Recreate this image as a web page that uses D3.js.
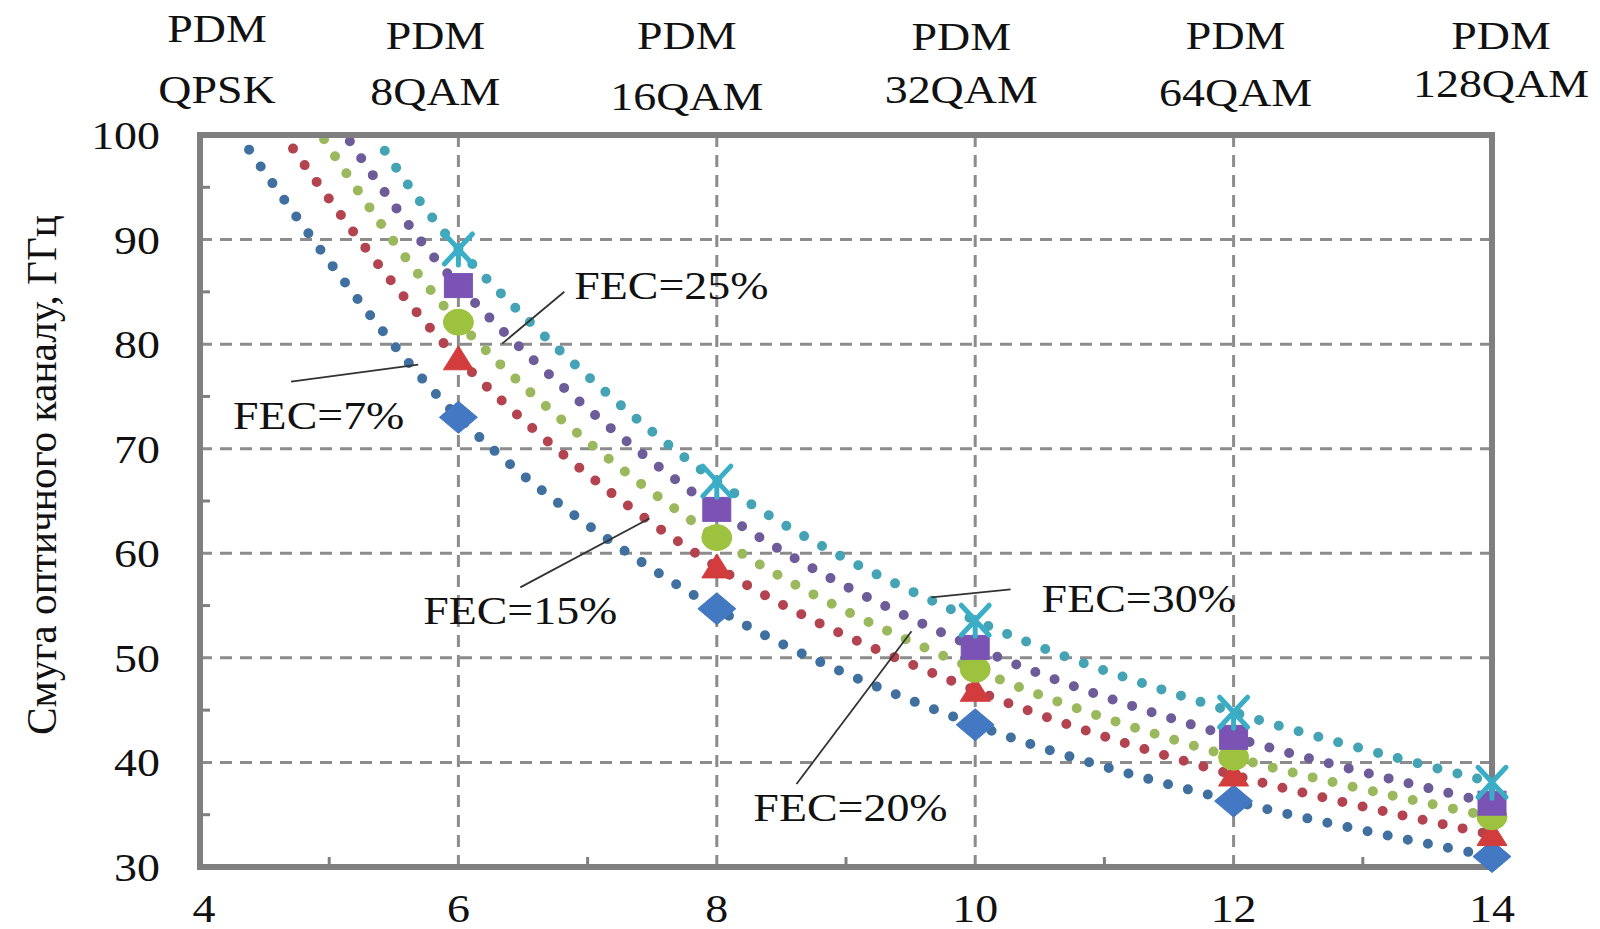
<!DOCTYPE html>
<html><head><meta charset="utf-8">
<script src="https://cdn.jsdelivr.net/npm/d3@7"></script>
<style>html,body{margin:0;padding:0;background:#fff;} svg{display:block}</style>
</head><body><svg id="chart" width="1600" height="929"></svg>
<script>
// ---------- data ----------
const xTicks = [4, 6, 8, 10, 12, 14];
const xMinorTicks = [5, 7, 9, 11, 13];
const yTicks = [30, 40, 50, 60, 70, 80, 90, 100];
const yMinorTicks = [35, 45, 55, 65, 75, 85, 95];
const gridX = [6, 8, 10, 12];
const gridY = [40, 50, 60, 70, 80, 90];
const modulationTop = ["PDM", "PDM", "PDM", "PDM", "PDM", "PDM"];
const modulationBottom = ["QPSK", "8QAM", "16QAM", "32QAM", "64QAM", "128QAM"];
const yAxisTitle = "Смуга оптичного каналу, ГГц";

const xValues = [6, 8, 10, 12, 14];
const seriesNames = ["FEC=7%", "FEC=15%", "FEC=20%", "FEC=25%", "FEC=30%"];
const fec7  = [73.0, 54.7, 43.6, 36.3, 31.0];
const fec15 = [78.6, 58.7, 46.9, 38.8, 33.1];
const fec20 = [82.1, 61.5, 48.9, 40.5, 34.8];
const fec25 = [85.6, 64.2, 51.0, 42.4, 36.1];
const fec30 = [89.1, 66.9, 53.6, 44.8, 38.1];
// where each dotted trend curve begins
const curveStartX = [4.38, 4.72, 4.96, 5.16, 5.43];
const curveStartY = [98.6, 98.7, 99.6, 99.4, 98.5];

// ---------- layout / style ----------
const W = 1600, H = 929;
const plot = {left: 200, right: 1492, top: 135, bottom: 867};
const markerColors = ["#4279c2", "#d23c3c", "#9cc23f", "#7a53b4", "#3aaec6"];
const dotColors = ["#40709f", "#b3444f", "#9ab85c", "#6e5b9a", "#44a4b5"];
const markerShapes = ["diamond", "triangle", "circle", "square", "asterisk"];
const FONT = "'Liberation Serif','Times New Roman',serif";
const FS = 41, SX = 1.12;
const topLabelDx = [17, -23, -30, -14, 2, 9];
const topLine1Base = [42, 49, 49, 50, 49, 49];
const topLine2Base = [103, 105, 110, 103, 106, 97];
// annotation placement in data units
const annotations = [
  {text: seriesNames[0], tx: 4.256, ty: 71.93, x1: 4.705, y1: 76.42, x2: 5.689, y2: 78.04},
  {text: seriesNames[1], tx: 5.727, ty: 53.21, x1: 6.479, y1: 56.74, x2: 7.478, y2: 63.33},
  {text: seriesNames[2], tx: 8.283, ty: 34.39, x1: 8.617, y1: 37.93, x2: 9.507, y2: 52.54},
  {text: seriesNames[3], tx: 6.897, ty: 84.35, x1: 6.820, y1: 85.01, x2: 6.339, y2: 80.05},
  {text: seriesNames[4], tx: 10.514, ty: 54.36, x1: 10.274, y1: 56.55, x2: 9.662, y2: 55.79}
];

const seriesValues = [fec7, fec15, fec20, fec25, fec30];

const svg = d3.select("#chart");
const x = d3.scaleLinear().domain([4, 14]).range([plot.left, plot.right]);
const y = d3.scaleLinear().domain([30, 100]).range([plot.bottom, plot.top]);

svg.append("rect").attr("width", W).attr("height", H).attr("fill", "#fff");

// grid
const grid = svg.append("g").attr("stroke", "#8c8c8c").attr("stroke-width", 3).attr("stroke-dasharray", "12 8");
grid.selectAll("line.gx").data(gridX).join("line").attr("class", "gx")
  .attr("x1", d => x(d)).attr("x2", d => x(d)).attr("y1", y(100)).attr("y2", y(30));
grid.selectAll("line.gy").data(gridY).join("line").attr("class", "gy")
  .attr("x1", x(4)).attr("x2", x(14)).attr("y1", d => y(d)).attr("y2", d => y(d));

// minor ticks
const tk = svg.append("g").attr("stroke", "#7f7f7f").attr("stroke-width", 3);
tk.selectAll("line.my").data(yMinorTicks).join("line").attr("class", "my")
  .attr("x1", x(4)).attr("x2", x(4) + 10).attr("y1", d => y(d)).attr("y2", d => y(d));
tk.selectAll("line.mx").data(xMinorTicks).join("line").attr("class", "mx")
  .attr("x1", d => x(d)).attr("x2", d => x(d)).attr("y1", y(30)).attr("y2", y(30) - 10);

// dotted trend curves
const line = d3.line().x(d => x(d[0])).y(d => y(d[1])).curve(d3.curveCatmullRom.alpha(0.5));
seriesValues.forEach((vals, i) => {
  const pts = [[curveStartX[i], curveStartY[i]]].concat(xValues.map((xv, j) => [xv, vals[j]]));
  svg.append("path").datum(pts).attr("d", line)
    .attr("fill", "none").attr("stroke", dotColors[i]).attr("stroke-width", 10)
    .attr("stroke-linecap", "round").attr("stroke-dasharray", "0 20.5");
});

// frame
svg.append("rect").attr("x", plot.left).attr("y", plot.top)
  .attr("width", plot.right - plot.left).attr("height", plot.bottom - plot.top)
  .attr("fill", "none").attr("stroke", "#7f7f7f").attr("stroke-width", 6);

// markers
seriesValues.forEach((vals, i) => {
  const g = svg.append("g").attr("fill", markerColors[i]).attr("stroke", markerColors[i]);
  vals.forEach((v, j) => {
    const cx = x(xValues[j]), cy = y(v);
    const m = g.append("g").attr("transform", `translate(${cx},${cy})`);
    const s = markerShapes[i];
    if (s === "diamond") m.append("path").attr("d", "M0,-16L19,0L0,16L-19,0Z").attr("stroke-width", 1);
    else if (s === "triangle") m.append("path").attr("d", "M0,-13L15,11L-15,11Z").attr("stroke-width", 1);
    else if (s === "circle") m.append("ellipse").attr("rx", 15).attr("ry", 13).attr("stroke-width", 1);
    else if (s === "square") m.append("rect").attr("x", -14).attr("y", -12).attr("width", 28).attr("height", 24).attr("stroke-width", 1);
    else {
      m.attr("fill", "none").attr("stroke-width", 5).attr("stroke-linecap", "round");
      m.append("path").attr("d", "M-14,-15L14,15M14,-15L-14,15M0,0L0,16");
    }
  });
});

// text helper
function txt(parent, str, tx, ty, anchor) {
  return parent.append("text").attr("transform", `translate(${tx},${ty}) scale(${SX},1)`)
    .attr("text-anchor", anchor || "start").attr("font-family", FONT).attr("font-size", FS)
    .attr("fill", "#111").text(str);
}

// y tick labels
yTicks.forEach(t => txt(svg, String(t), 160, y(t) + 14, "end"));
// x tick labels
xTicks.forEach(t => txt(svg, String(t), x(t) + (t === 4 ? 4 : 0), 922, "middle"));

// top modulation labels
xTicks.forEach((t, i) => {
  txt(svg, modulationTop[i], x(t) + topLabelDx[i], topLine1Base[i], "middle");
  txt(svg, modulationBottom[i], x(t) + topLabelDx[i], topLine2Base[i], "middle");
});

// y axis title
svg.append("text").attr("transform", "translate(56,475) rotate(-90)")
  .attr("text-anchor", "middle").attr("font-family", FONT).attr("font-size", 42)
  .attr("fill", "#111").attr("textLength", 520).attr("lengthAdjust", "spacingAndGlyphs")
  .text(yAxisTitle);

// annotations
annotations.forEach(a => {
  svg.append("line").attr("x1", x(a.x1)).attr("y1", y(a.y1)).attr("x2", x(a.x2)).attr("y2", y(a.y2))
    .attr("stroke", "#333").attr("stroke-width", 1.8);
  txt(svg, a.text, x(a.tx), y(a.ty), "start");
});
</script></body></html>
